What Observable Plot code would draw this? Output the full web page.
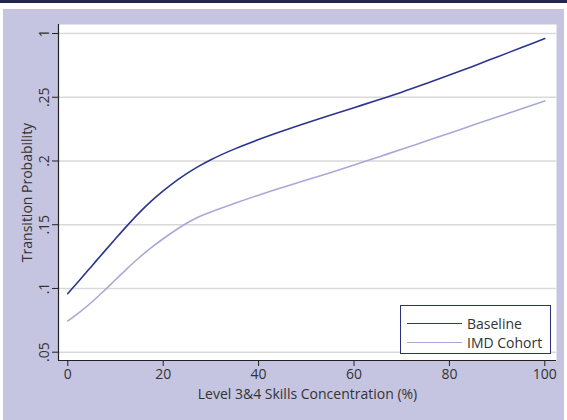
<!DOCTYPE html>
<html>
<head>
<meta charset="utf-8">
<script src="https://cdn.jsdelivr.net/npm/d3@7"></script>
<script src="https://cdn.jsdelivr.net/npm/@observablehq/plot@0.6"></script>
<style>
  html, body { margin: 0; padding: 0; background: #fff; }
  #wrap { position: relative; width: 567px; height: 420px; overflow: hidden; }
  #wrap svg {
    display: block;
    background:
      linear-gradient(to bottom, #24244e 0px, #24244e 3px, #ffffff 3px, #ffffff 9px, transparent 9px),
      linear-gradient(to right, #ffffff 0px, #ffffff 3px, #c5c5e1 3px, #c5c5e1 564px, #ffffff 564px) !important;
  }
  #legend {
    position: absolute; left: 400px; top: 305px; width: 149px; height: 47px;
    border: 1px solid #2b2f80; background: #fff;
    font-family: 'Open Sans', sans-serif; font-size: 14px; color: #333;
  }
  .row { position: absolute; left: 0; height: 18px; display: flex; align-items: center; }
  .sw { display: inline-block; width: 55px; height: 0; margin-left: 6px; margin-right: 5px; }
</style>
</head>
<body>
<div id="wrap"></div>
<script>
const skills = [0, 2.5, 5, 7.5, 10, 12.5, 15, 17.5, 20, 22.5, 25, 27.5, 30, 35, 40, 45, 50, 55, 60, 65, 70, 75, 80, 85, 90, 95, 100];
const baseline = [0.096, 0.1067, 0.1175, 0.1283, 0.139, 0.1495, 0.1595, 0.1685, 0.1765, 0.1838, 0.1903, 0.196, 0.201, 0.2095, 0.2168, 0.2235, 0.2298, 0.2358, 0.2418, 0.2478, 0.254, 0.2606, 0.2674, 0.2744, 0.2816, 0.2888, 0.296];
const imdCohort = [0.0745, 0.0815, 0.0892, 0.0978, 0.1068, 0.1158, 0.1243, 0.132, 0.139, 0.1455, 0.1513, 0.1562, 0.16, 0.1668, 0.1732, 0.1792, 0.185, 0.1908, 0.1968, 0.203, 0.2092, 0.2155, 0.2218, 0.2282, 0.2345, 0.2408, 0.247];
const seriesNames = ["Baseline", "IMD Cohort"];
const seriesColors = ["#2b3590", "#a9a9d8"];
const xTicks = [0, 20, 40, 60, 80, 100];
const yTicks = [0.05, 0.1, 0.15, 0.2, 0.25, 0.3];
const yTickLabels = [".05", ".1", ".15", ".2", ".25", "1"];
const xTitle = "Level 3&4 Skills Concentration (%)";
const yTitle = "Transition Probability";

const xDomain = [-1.95, 102.45];
const yDomain = [0.04349, 0.30706];

const baseRows = skills.map((x, i) => ({x, y: baseline[i]}));
const imdRows = skills.map((x, i) => ({x, y: imdCohort[i]}));

const plot = Plot.plot({
  width: 567,
  height: 420,
  marginLeft: 58,
  marginRight: 11,
  marginTop: 24,
  marginBottom: 60,
  style: {fontFamily: "'Open Sans', sans-serif", fontSize: "14px", color: "#333"},
  x: {domain: xDomain},
  y: {domain: yDomain},
  marks: [
    Plot.frame({fill: "white", stroke: "none"}),
    Plot.ruleY(yTicks, {stroke: "#d9d9d9", strokeWidth: 1.5}),
    Plot.line(imdRows, {x: "x", y: "y", stroke: seriesColors[1], strokeWidth: 1.6, curve: "monotone-x"}),
    Plot.line(baseRows, {x: "x", y: "y", stroke: seriesColors[0], strokeWidth: 1.6, curve: "monotone-x"}),
    Plot.ruleX([xDomain[0]], {stroke: "#222", strokeWidth: 1.2}),
    Plot.ruleY([yDomain[0]], {stroke: "#222", strokeWidth: 1.2}),
    Plot.axisX({ticks: xTicks, tickSize: 6, tickPadding: 3, label: null, stroke: "#222", fill: "#333", fontSize: 14}),
    Plot.axisY({ticks: yTicks, tickFormat: d => yTickLabels[yTicks.indexOf(d)], tickRotate: -90, tickSize: 6, tickPadding: 4, label: null, stroke: "#222", fill: "#333", fontSize: 14}),
    Plot.text([xTitle], {frameAnchor: "bottom", dy: 38, fill: "#333", fontSize: 14}),
    Plot.text([yTitle], {frameAnchor: "left", dx: -31, rotate: -90, textAnchor: "middle", fill: "#333", fontSize: 14})
  ]
});
plot.style.background = "";
document.getElementById("wrap").appendChild(plot);

const legend = document.createElement("div");
legend.id = "legend";
seriesNames.forEach((name, i) => {
  const row = document.createElement("div");
  row.className = "row";
  row.style.top = (8 + i * 19) + "px";
  const sw = document.createElement("span");
  sw.className = "sw";
  sw.style.borderTop = "1.6px solid " + seriesColors[i];
  const t = document.createElement("span");
  t.textContent = name;
  row.appendChild(sw);
  row.appendChild(t);
  legend.appendChild(row);
});
document.getElementById("wrap").appendChild(legend);
</script>
</body>
</html>
